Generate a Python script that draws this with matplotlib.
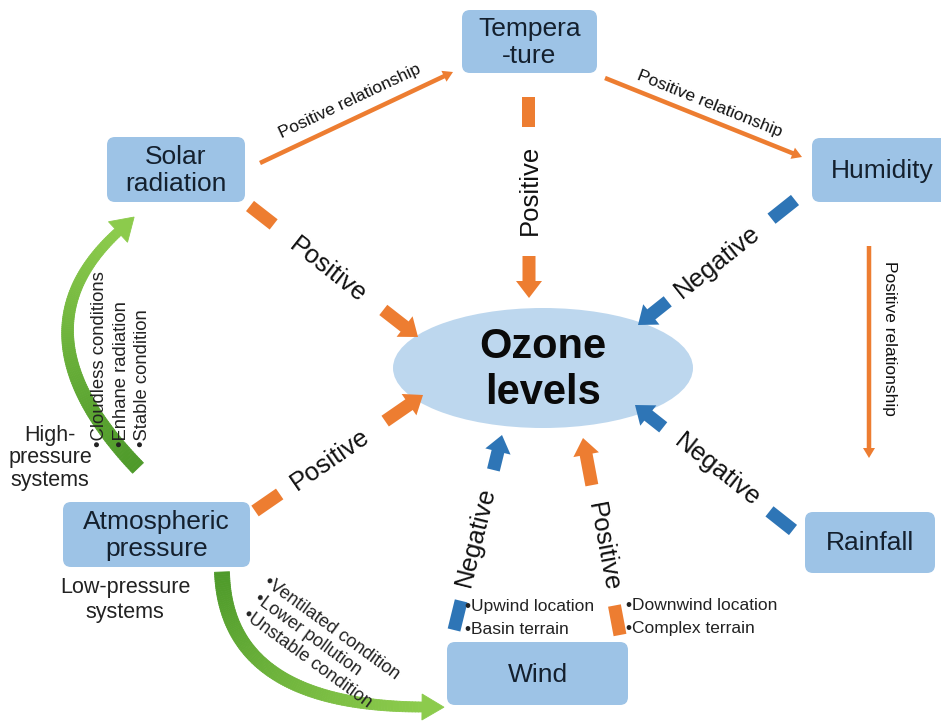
import numpy as np
import matplotlib.pyplot as plt
from matplotlib.patches import FancyBboxPatch, Ellipse, Polygon
from matplotlib.collections import PolyCollection
from matplotlib.colors import to_rgb

plt.rcParams['font.family'] = ['Liberation Sans', 'DejaVu Sans']

W, H = 941, 726

ORANGE = '#ED7D31'
BLUE = '#2E75B6'
BOX_FILL = '#9DC3E6'
OZONE_FILL = '#BDD7EE'
BOX_TEXT = '#14202e'

# Factor boxes (pixel edges x0, y0, x1, y1)
box_labels = ['Tempera\n-ture', 'Solar\nradiation', 'Humidity', 'Rainfall',
              'Atmospheric\npressure', 'Wind']
box_edges = [(462, 10, 597, 73), (107, 137, 245, 202), (812, 138, 952, 202),
             (805, 512, 935, 573), (63, 502, 250, 567), (447, 642, 628, 705)]

# Links into the ozone ellipse
link_start = [(529, 97), (250, 206), (795, 200), (793, 530), (255, 511), (454, 630), (620, 635)]
link_tip = [(529, 298), (418, 337), (638, 325), (635, 405), (423, 395), (502, 435), (583, 438)]
link_head_len = [42, 44, 38, 36, 46, 36, 48]
link_sign = ['Positive', 'Positive', 'Negative', 'Negative', 'Positive', 'Negative', 'Positive']
link_label_xy = [(530, 190), (328, 270), (717, 262), (717, 470), (330, 460), (476, 537), (603, 547)]
link_label_rot = [90, -38, 38.5, -38.4, 34.6, 76, -79.4]

# Thin "Positive relationship" arrows between factors
rel_start = [(260, 163), (605, 78), (869, 246)]
rel_tip = [(453, 72), (802, 157), (869, 458)]
rel_label_xy = [(350, 101), (710, 104), (890, 338)]
rel_label_rot = [25.2, -21.9, -90]

fig = plt.figure(figsize=(W / 100, H / 100), dpi=100)
ax = fig.add_axes([0, 0, 1, 1])
ax.set_xlim(0, W)
ax.set_ylim(H, 0)
ax.axis('off')


def unit(a, b):
    d = np.array(b, float) - np.array(a, float)
    return d / np.hypot(*d)


def arrow_poly(a, tip, shaft_w, head_w, head_l, color, z=3):
    a = np.array(a, float)
    tip = np.array(tip, float)
    u = unit(a, tip)
    n = np.array([-u[1], u[0]])
    b = tip - u * head_l
    pts = [a + n * shaft_w / 2, b + n * shaft_w / 2, b + n * head_w / 2, tip,
           b - n * head_w / 2, b - n * shaft_w / 2, a - n * shaft_w / 2]
    ax.add_patch(Polygon(pts, closed=True, fc=color, ec='none', zorder=z))


def block(a, u, length, width, color):
    a = np.array(a, float)
    n = np.array([-u[1], u[0]])
    b = a + u * length
    pts = [a + n * width / 2, b + n * width / 2, b - n * width / 2, a - n * width / 2]
    ax.add_patch(Polygon(pts, closed=True, fc=color, ec='none', zorder=3))


def green_arc(p0, p1, p2, w0, w1, c0, c1, head_l, head_w, n=120):
    t = np.linspace(0, 1, n)[:, None]
    p0, p1, p2 = (np.array(p, float) for p in (p0, p1, p2))
    pts = (1 - t) ** 2 * p0 + 2 * t * (1 - t) * p1 + t ** 2 * p2
    d = np.gradient(pts, axis=0)
    d /= np.hypot(d[:, 0], d[:, 1])[:, None]
    nrm = np.stack([-d[:, 1], d[:, 0]], axis=1)
    w = np.linspace(w0, w1, n)[:, None] / 2
    left, right = pts + nrm * w, pts - nrm * w
    polys = [[left[i], left[i + 1], right[i + 1], right[i]] for i in range(n - 1)]
    c0, c1 = np.array(to_rgb(c0)), np.array(to_rgb(c1))
    s = np.linspace(0, 1, n - 1)[:, None]
    cols = c0 * (1 - s) + c1 * s
    ax.add_collection(PolyCollection(polys, facecolors=cols, edgecolors=cols,
                                     linewidths=0.6, zorder=4))
    end, de, ne = pts[-1], d[-1], nrm[-1]
    head = [end + ne * head_w / 2, end + de * head_l, end - ne * head_w / 2]
    ax.add_patch(Polygon(head, closed=True, fc=c1, ec=c1, lw=0.6, zorder=4))


# Factor boxes
for label, (x0, y0, x1, y1) in zip(box_labels, box_edges):
    ax.add_patch(FancyBboxPatch((x0 + 8, y0 + 8), x1 - x0 - 16, y1 - y0 - 16,
                                boxstyle='round,pad=8', fc=BOX_FILL, ec='none', zorder=2))
    ax.text((x0 + x1) / 2, (y0 + y1) / 2 + 1, label, ha='center', va='center',
            fontsize=19, color=BOX_TEXT, linespacing=1.2, zorder=5)

# Ozone ellipse
ax.add_patch(Ellipse((543, 368), 300, 120, fc=OZONE_FILL, ec='none', zorder=2))
ax.text(543, 370, 'Ozone\nlevels', ha='center', va='center', fontsize=30,
        fontweight='bold', color='#0a0a0a', linespacing=1.2, zorder=5)

# Thick links: short dash, label, arrow
for s, tp, hl, sign, lxy, rot in zip(link_start, link_tip, link_head_len,
                                     link_sign, link_label_xy, link_label_rot):
    col = ORANGE if sign == 'Positive' else BLUE
    u = unit(s, tp)
    block(s, u, 30, 13, col)
    arrow_poly(np.array(tp, float) - u * hl, tp, 13, 26, 17, col)
    ax.text(lxy[0], lxy[1], sign, ha='center', va='center', rotation=rot,
            rotation_mode='anchor', fontsize=18.5, color='#111111', zorder=5)

# Thin relationship arrows
for s, tp, lxy, rot in zip(rel_start, rel_tip, rel_label_xy, rel_label_rot):
    arrow_poly(s, tp, 4.5, 12, 10, ORANGE)
    ax.text(lxy[0], lxy[1], 'Positive relationship', ha='center', va='center',
            rotation=rot, rotation_mode='anchor', fontsize=12.5, color='#111111', zorder=5)

# Green curved arrows
green_arc((138, 468), (8, 333), (118, 232), 15, 9, '#4E9A2A', '#8CCB4C', 22, 28)
green_arc((222, 572), (226, 706), (422, 707), 15, 10, '#4E9A2A', '#8CCB4C', 22, 26)

# Pressure system notes
ax.text(50, 458, 'High-\npressure\nsystems', ha='center', va='center', fontsize=15.5,
        color='#222222', linespacing=1.1, zorder=3)
ax.text(125, 600, 'Low-pressure\nsystems', ha='center', va='center', fontsize=15.5,
        color='#222222', linespacing=1.25, zorder=3)

high_notes = ['•Cloudless conditions', '•Enhane radiation', '•Stable condition']
high_x = [100, 122, 143]
for txt, x in zip(high_notes, high_x):
    ax.text(x, 447, txt, ha='left', va='center', rotation=90, rotation_mode='anchor',
            fontsize=13.3, color='#222222', zorder=5)

low_notes = ['•Ventilated condition', '•Lower pollution', '•Unstable condition']
low_xy = [(266, 580), (256, 597), (245, 613)]
for txt, (x, y) in zip(low_notes, low_xy):
    ax.text(x, y, txt, ha='left', va='center', rotation=-36, rotation_mode='anchor',
            fontsize=13, color='#222222', zorder=5)

wind_left = ['•Upwind location', '•Basin terrain']
wind_right = ['•Downwind location', '•Complex terrain']
wind_y = [606, 629]
for l, r, y in zip(wind_left, wind_right, wind_y):
    ax.text(465, y, l, ha='left', va='center', fontsize=12.5, color='#222222', zorder=5)
    ax.text(626, y, r, ha='left', va='center', fontsize=12.5, color='#222222', zorder=5)

fig.savefig('out.png', dpi=100, facecolor='white')
